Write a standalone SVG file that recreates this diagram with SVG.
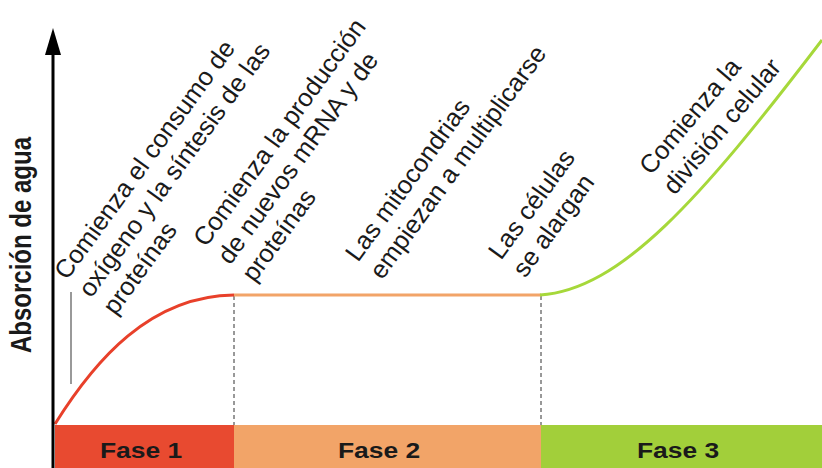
<svg xmlns="http://www.w3.org/2000/svg" width="822" height="468" viewBox="0 0 822 468">
<style>
.lbl{font-family:"Liberation Sans",Arial,sans-serif;font-size:25.5px;fill:#1a1a1a}
.fase{font-family:"Liberation Sans",Arial,sans-serif;font-size:22px;font-weight:bold;fill:#1a1a1a;text-anchor:middle}
.dash{stroke:#333;stroke-width:1;stroke-dasharray:4 3;fill:none}
</style>
<rect width="822" height="468" fill="#ffffff"/>
<g id="bands">
<rect x="55" y="425" width="179" height="43" fill="#e84a30"/>
<rect x="234" y="425" width="307" height="43" fill="#f2a468"/>
<rect x="541" y="425" width="281" height="43" fill="#a2cf3a"/>
<text class="fase" transform="translate(141,458) scale(1.2,1)">Fase 1</text>
<text class="fase" transform="translate(379,458) scale(1.2,1)">Fase 2</text>
<text class="fase" transform="translate(678,458) scale(1.2,1)">Fase 3</text>
</g>
<g id="connectors">
<line class="dash" x1="234" y1="296" x2="234" y2="425"/>
<line class="dash" x1="541" y1="296" x2="541" y2="425"/>
<line x1="71" y1="292" x2="71" y2="384" stroke="#555" stroke-width="1.2"/>
<path d="M55,424 C95,360 150,296 234,295" fill="none" stroke="#e8402a" stroke-width="3"/>
<line x1="234" y1="295" x2="541" y2="295" stroke="#f2a468" stroke-width="3"/>
<path d="M540,295 C620,290 700,200 822,40" fill="none" stroke="#a6d83a" stroke-width="3"/>
</g>
<g id="axis">
<line x1="53" y1="468" x2="53" y2="50" stroke="#000" stroke-width="3"/>
<polygon points="45,55 53,28 61,55" fill="#000"/>
<text transform="translate(31,245) scale(1.2,1) rotate(-90)" text-anchor="middle" style="font-family:'Liberation Sans',Arial,sans-serif;font-size:24px;font-weight:bold;fill:#1a1a1a">Absorción de agua</text>
</g>
<g id="n1" transform="translate(67,281) rotate(-54)">
<text class="lbl"><tspan x="0" y="0">Comienza el consumo de</tspan><tspan x="0" y="30">oxígeno y la síntesis de las</tspan><tspan x="0" y="60">proteínas</tspan></text>
</g>
<g id="n2" transform="translate(206,248) rotate(-54)">
<text class="lbl"><tspan x="0" y="0">Comienza la producción</tspan><tspan x="0" y="30">de nuevos mRNA y de</tspan><tspan x="0" y="60">proteínas</tspan></text>
</g>
<g id="n3" transform="translate(358,263) rotate(-54)">
<text class="lbl"><tspan x="0" y="0">Las mitocondrias</tspan><tspan x="0" y="30">empiezan a multiplicarse</tspan></text>
</g>
<g id="n4" transform="translate(501,261) rotate(-54)">
<text class="lbl"><tspan x="0" y="0">Las células</tspan><tspan x="0" y="30">se alargan</tspan></text>
</g>
<g id="n5" transform="translate(651,176) rotate(-50)">
<text class="lbl"><tspan x="0" y="0">Comienza la</tspan><tspan x="0" y="31">división celular</tspan></text>
</g>
</svg>
